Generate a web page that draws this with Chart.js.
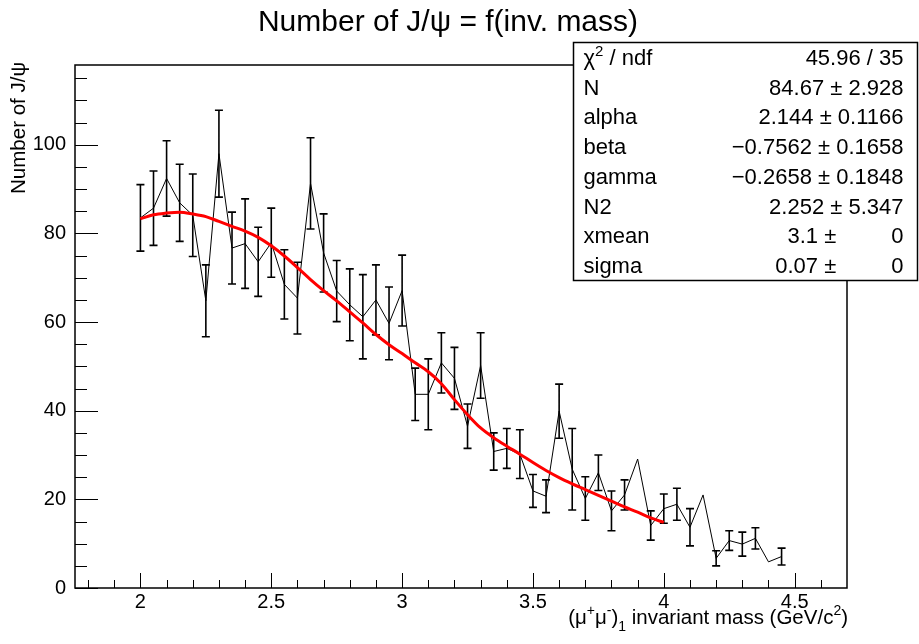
<!DOCTYPE html>
<html>
<head>
<meta charset="utf-8">
<script src="https://cdn.jsdelivr.net/npm/chart.js@4.4.1/dist/chart.umd.min.js"></script>
<style>
  html, body { margin: 0; padding: 0; background: #fff; }
  #jpsiChart { display: block; }
</style>
</head>
<body>
<canvas id="jpsiChart" width="919" height="644"></canvas>
<script>
// Bin centres of the dimuon invariant mass histogram (GeV/c^2)
const massBins = [
  2.00, 2.05, 2.10, 2.15, 2.20, 2.25, 2.30, 2.35, 2.40, 2.45,
  2.50, 2.55, 2.60, 2.65, 2.70, 2.75, 2.80, 2.85, 2.90, 2.95,
  3.00, 3.05, 3.10, 3.15, 3.20, 3.25, 3.30, 3.35, 3.40, 3.45,
  3.50, 3.55, 3.60, 3.65, 3.70, 3.75, 3.80, 3.85, 3.90, 3.95,
  4.00, 4.05, 4.10, 4.15, 4.20, 4.25, 4.30, 4.35, 4.40, 4.45
];

// Fitted number of J/psi per bin
const jpsiCounts = [
  83.5, 85.7, 92.4, 86.9, 84.1, 64.8, 98.0, 76.7, 77.7, 73.6,
  77.9, 68.5, 65.4, 91.3, 75.6, 67.0, 63.9, 61.2, 65.0, 59.7,
  67.1, 43.7, 43.7, 50.8, 47.3, 36.5, 50.2, 30.8, 31.5, 30.2,
  21.9, 20.7, 39.9, 26.8, 20.2, 26.0, 17.4, 21.0, 29.1, 14.1,
  17.9, 18.9, 13.7, 21.0, 6.7, 10.7, 9.9, 11.2, 5.9, 7.1
];

// Errors on the counts (null = fit did not converge, no bar)
const jpsiErrors = [
  7.5, 8.4, 8.5, 8.7, 9.3, 8.1, 9.8, 8.1, 10.1, 7.8,
  7.8, 7.8, 8.1, 10.3, 8.8, 6.9, 8.1, 9.5, 7.9, 8.2,
  8.0, 5.9, 8.0, 6.8, 7.0, 5.0, 7.4, 4.2, 4.5, 5.5,
  3.7, 3.7, 6.1, 9.2, 4.9, 4.0, 4.5, 3.4, null, 3.3,
  3.3, 3.6, 4.2, null, 1.7, 2.2, 2.7, 2.4, null, 1.9
];

// Fit function evaluated at the bin centres from 2.0 to 4.0
const fitCounts = [
  83.3, 84.2, 84.6, 84.8, 84.4, 83.8, 82.7, 81.6, 80.5, 79.1,
  77.2, 74.9, 72.3, 69.6, 67.1, 64.8, 62.3, 59.8, 57.2, 54.9,
  52.9, 50.8, 48.8, 46.1, 42.5, 39.1, 36.1, 33.9, 32.0, 30.2,
  28.3, 26.5, 24.9, 23.5, 22.2, 20.9, 19.6, 18.3, 17.1, 15.8,
  14.8
];
const fitMass = massBins.slice(0, fitCounts.length);

const xTicks = [2, 2.5, 3, 3.5, 4, 4.5];
const xTickLabels = ['2', '2.5', '3', '3.5', '4', '4.5'];
const yTicks = [0, 20, 40, 60, 80, 100];
const yTickLabels = ['0', '20', '40', '60', '80', '100'];

// Fit statistics box
const statNames = ['χ^{2} / ndf', 'N', 'alpha', 'beta', 'gamma', 'N2', 'xmean', 'sigma'];
const statValues = [
  '45.96 / 35',
  '84.67 ± 2.928',
  '2.144 ± 0.1166',
  '\u22120.7562 ± 0.1658',
  '\u22120.2658 ± 0.1848',
  '2.252 ± 5.347',
  '3.1 ±         0',
  '0.07 ±         0'
];

const FONT = "'Liberation Sans', Arial, Helvetica, sans-serif";
Chart.defaults.font.family = FONT;
Chart.defaults.color = '#000';

// tiny TLatex-like renderer: handles ^{..} and _{..}
function parseLatex(str) {
  const parts = [];
  const re = /(\^|_)\{([^}]*)\}/g;
  let last = 0, m;
  while ((m = re.exec(str)) !== null) {
    if (m.index > last) parts.push({ t: str.slice(last, m.index), k: 0 });
    parts.push({ t: m[2], k: m[1] === '^' ? 1 : -1 });
    last = re.lastIndex;
  }
  if (last < str.length) parts.push({ t: str.slice(last), k: 0 });
  return parts;
}

function drawLatex(ctx, str, x, y, size, align) {
  const parts = parseLatex(str);
  const fontFor = p => (p.k ? Math.round(size * 0.7) : size) + 'px ' + FONT;
  let total = 0;
  parts.forEach(p => { ctx.font = fontFor(p); p.w = ctx.measureText(p.t).width; total += p.w; });
  let cx = x;
  if (align === 'center') cx = x - total / 2;
  else if (align === 'right') cx = x - total;
  ctx.textAlign = 'left';
  ctx.textBaseline = 'alphabetic';
  parts.forEach(p => {
    ctx.font = fontFor(p);
    const dy = p.k === 1 ? -size * 0.42 : (p.k === -1 ? size * 0.32 : 0);
    ctx.fillText(p.t, cx, y + dy);
    cx += p.w;
  });
}

const rootFrame = {
  id: 'rootFrame',
  beforeDatasetsDraw(chart) {
    const { ctx, chartArea: a, scales: { x, y } } = chart;
    ctx.save();
    ctx.strokeStyle = '#000';

    // tick marks drawn inside the frame
    ctx.lineWidth = 1;
    ctx.beginPath();
    for (let k = 18; k <= 46; k++) {
      const px = Math.round(x.getPixelForValue(k / 10)) + 0.5;
      const len = k % 5 === 0 ? 15 : 8;
      ctx.moveTo(px, a.bottom);
      ctx.lineTo(px, a.bottom - len);
    }
    for (let k = 0; k <= 115; k += 5) {
      const py = Math.round(y.getPixelForValue(k)) + 0.5;
      const len = k % 20 === 0 ? 23 : 12;
      ctx.moveTo(a.left, py);
      ctx.lineTo(a.left + len, py);
    }
    ctx.stroke();

    ctx.lineWidth = 1.5;
    ctx.strokeRect(a.left, a.top, a.right - a.left, a.bottom - a.top);

    // error bars with small caps
    ctx.lineWidth = 1.6;
    ctx.beginPath();
    massBins.forEach((m, i) => {
      const e = jpsiErrors[i];
      if (e == null) return;
      const px = x.getPixelForValue(m);
      const top = y.getPixelForValue(jpsiCounts[i] + e);
      const bot = y.getPixelForValue(jpsiCounts[i] - e);
      ctx.moveTo(px, top);
      ctx.lineTo(px, bot);
      ctx.moveTo(px - 4, top);
      ctx.lineTo(px + 4, top);
      ctx.moveTo(px - 4, bot);
      ctx.lineTo(px + 4, bot);
    });
    ctx.stroke();
    ctx.restore();
  },
  afterDraw(chart) {
    const { ctx } = chart;
    ctx.save();
    ctx.fillStyle = '#000';

    drawLatex(ctx, 'Number of J/ψ = f(inv. mass)', 448, 31, 30, 'center');
    drawLatex(ctx, '(μ^{+}μ^{-})_{1} invariant mass (GeV/c^{2})', 848, 624, 20.5, 'right');

    ctx.save();
    ctx.translate(25, 62);
    ctx.rotate(-Math.PI / 2);
    drawLatex(ctx, 'Number of J/ψ', 0, 0, 20.5, 'right');
    ctx.restore();

    // stats box on top of the frame
    const bx = 573.5, by = 42.5, bw = 344, bh = 238;
    ctx.fillStyle = '#fff';
    ctx.fillRect(bx, by, bw, bh);
    ctx.strokeStyle = '#000';
    ctx.lineWidth = 1.5;
    ctx.strokeRect(bx, by, bw, bh);
    ctx.fillStyle = '#000';
    const row = bh / statNames.length;
    statNames.forEach((name, i) => {
      const base = by + row * (i + 0.5) + 7.5;
      drawLatex(ctx, name, bx + 10, base, 22, 'left');
      drawLatex(ctx, statValues[i], bx + bw - 14, base, 22, 'right');
    });
    ctx.restore();
  }
};

new Chart(document.getElementById('jpsiChart'), {
  type: 'line',
  data: {
    datasets: [
      {
        label: 'Number of J/ψ',
        data: massBins.map((m, i) => ({ x: m, y: jpsiCounts[i] })),
        borderColor: '#000',
        borderWidth: 1,
        pointRadius: 0,
        fill: false,
        order: 2
      },
      {
        label: 'fit',
        data: fitMass.map((m, i) => ({ x: m, y: fitCounts[i] })),
        borderColor: '#ff0000',
        borderWidth: 3,
        pointRadius: 0,
        cubicInterpolationMode: 'monotone',
        fill: false,
        order: 1
      }
    ]
  },
  options: {
    responsive: false,
    animation: false,
    devicePixelRatio: 1,
    layout: { padding: { top: 65, right: 72, left: 0, bottom: 0 } },
    plugins: {
      legend: { display: false },
      tooltip: { enabled: false },
      title: { display: false }
    },
    scales: {
      x: {
        type: 'linear',
        min: 1.75,
        max: 4.7,
        grid: { display: false, drawTicks: false },
        border: { display: false },
        afterBuildTicks: s => { s.ticks = xTicks.map(v => ({ value: v })); },
        afterFit: s => { s.height = 56; },
        ticks: {
          autoSkip: false,
          maxRotation: 0,
          padding: 2,
          font: { size: 20 },
          callback: v => xTickLabels[xTicks.indexOf(v)]
        }
      },
      y: {
        min: 0,
        max: 118,
        grid: { display: false, drawTicks: false },
        border: { display: false },
        afterBuildTicks: s => { s.ticks = yTicks.map(v => ({ value: v })); },
        afterFit: s => { s.width = 75; },
        ticks: {
          padding: 9,
          font: { size: 20 },
          callback: v => yTickLabels[yTicks.indexOf(v)]
        }
      }
    }
  },
  plugins: [rootFrame]
});
</script>
</body>
</html>
